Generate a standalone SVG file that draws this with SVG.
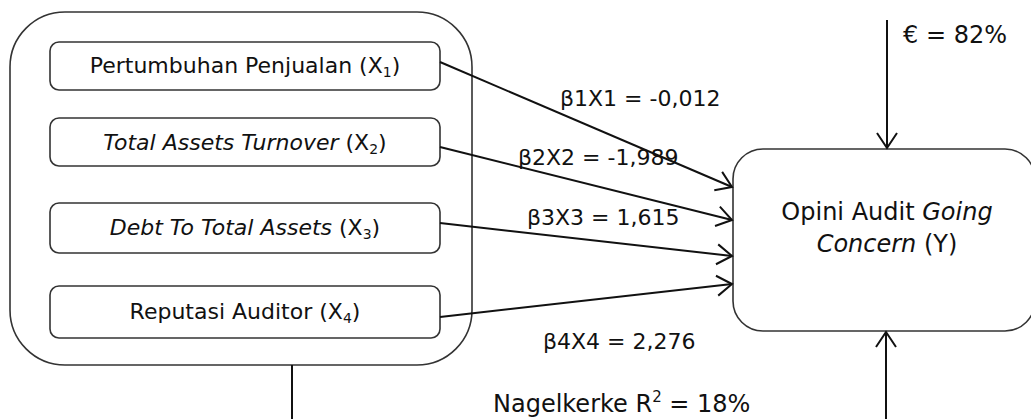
<svg xmlns="http://www.w3.org/2000/svg" width="1031" height="419" viewBox="0 0 1031 419">
<style>
.box{fill:#fff;stroke:#333;stroke-width:1.6}
.t{font-family:"DejaVu Sans",Verdana,sans-serif;font-size:22px;fill:#111}
.ty{font-family:"DejaVu Sans",Verdana,sans-serif;font-size:24px;fill:#111}
.tl{font-family:"DejaVu Sans",Verdana,sans-serif;font-size:24px;fill:#111}
.c{fill:none;stroke:#111;stroke-width:2}
.i{font-style:italic}
</style>
<defs>
<marker id="ah" markerUnits="userSpaceOnUse" markerWidth="20" markerHeight="24" refX="16" refY="11" orient="auto" viewBox="0 0 20 22">
<path d="M1,1 L16,11 L1,21" fill="none" stroke="#111" stroke-width="2"/>
</marker>
</defs>
<rect width="1031" height="419" fill="#fff"/>
<g id="group-x">
<rect class="box" x="10" y="12" width="462" height="353" rx="55" ry="55"/>
</g>
<g id="x1">
<rect class="box" x="50" y="42" width="390" height="48" rx="9"/>
<text class="t" x="245" y="73" text-anchor="middle">Pertumbuhan Penjualan (X<tspan font-size="14" dy="4">1</tspan><tspan dy="-4">)</tspan></text>
</g>
<g id="x2">
<rect class="box" x="50" y="118" width="390" height="48" rx="9"/>
<text class="t" x="245" y="150" text-anchor="middle"><tspan class="i">Total Assets Turnover</tspan> (X<tspan font-size="14" dy="4">2</tspan><tspan dy="-4">)</tspan></text>
</g>
<g id="x3">
<rect class="box" x="50" y="203" width="390" height="50" rx="9"/>
<text class="t" x="245" y="235" text-anchor="middle"><tspan class="i">Debt To Total Assets</tspan> (X<tspan font-size="14" dy="4">3</tspan><tspan dy="-4">)</tspan></text>
</g>
<g id="x4">
<rect class="box" x="50" y="286" width="390" height="52" rx="9"/>
<text class="t" x="245" y="319" text-anchor="middle">Reputasi Auditor (X<tspan font-size="14" dy="4">4</tspan><tspan dy="-4">)</tspan></text>
</g>
<g id="y">
<rect class="box" x="733" y="149" width="302" height="182" rx="30"/>
<text class="ty" x="887" y="220" text-anchor="middle">Opini Audit <tspan class="i">Going</tspan></text>
<text class="ty" x="887" y="252" text-anchor="middle"><tspan class="i">Concern</tspan> (Y)</text>
</g>
<g id="connectors">
<line class="c" x1="440" y1="62" x2="732" y2="187" marker-end="url(#ah)"/>
<line class="c" x1="440" y1="147" x2="732" y2="220" marker-end="url(#ah)"/>
<line class="c" x1="440" y1="223" x2="732" y2="256" marker-end="url(#ah)"/>
<line class="c" x1="440" y1="317" x2="732" y2="284" marker-end="url(#ah)"/>
<line class="c" x1="887" y1="20" x2="887" y2="148" marker-end="url(#ah)"/>
<line class="c" x1="886" y1="419" x2="886" y2="332" marker-end="url(#ah)"/>
<line class="c" x1="292" y1="365" x2="292" y2="419"/>
</g>
<g id="labels">
<text class="t" x="560" y="106">β1X1 = -0,012</text>
<text class="t" x="518" y="165">β2X2 = -1,989</text>
<text class="t" x="527" y="225">β3X3 = 1,615</text>
<text class="t" x="543" y="349">β4X4 = 2,276</text>
<text class="tl" x="903" y="43">€ = 82%</text>
<text class="tl" x="493" y="412">Nagelkerke R<tspan font-size="15" dy="-10">2</tspan><tspan dy="10"> = 18%</tspan></text>
</g>
</svg>
